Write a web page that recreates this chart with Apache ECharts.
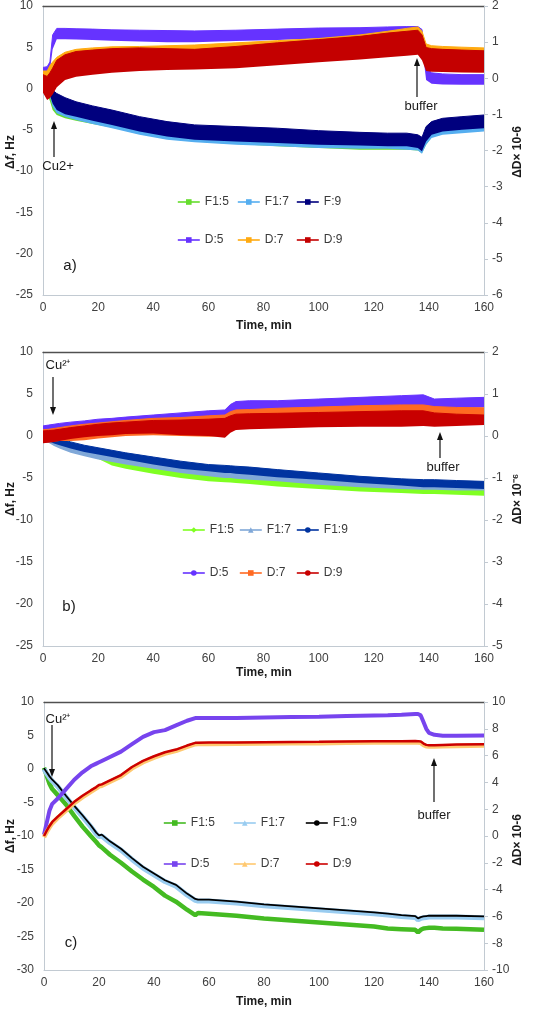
<!DOCTYPE html>
<html><head><meta charset="utf-8">
<script src="https://cdn.jsdelivr.net/npm/echarts@6/dist/echarts.min.js"></script>
<style>
html,body{margin:0;padding:0;background:#fff;width:534px;height:1009px;overflow:hidden}
.c{position:absolute;left:0;width:534px}
</style></head>
<body>
<div id="ca" class="c" style="top:0;height:335px"></div>
<div id="cb" class="c" style="top:335px;height:345px"></div>
<div id="cc" class="c" style="top:680px;height:329px"></div>
<script>
// ---------- tick settings ----------
const xTicks = {min: 0, max: 160, interval: 20};

// ---------- Panel a (noise envelopes: lower / upper) ----------
const tA = [0, 1.5, 2.5, 3.5, 5, 8, 12, 18, 25, 35, 45, 55, 70, 85, 100, 115, 125, 132, 136, 137.5, 139, 141, 145, 152, 160];
const aF5lo = [-0.3,-0.7,-1.5,-2.6,-3.2,-3.6,-3.9,-4.3,-4.7,-5.5,-6.1,-6.4,-6.7,-7.0,-7.2,-7.4,-7.4,-7.4,-7.5,-7.8,-6.8,-5.9,-5.5,-5.3,-5.1];
const aF5hi = [0.2,-0.1,-0.6,-1.2,-1.6,-2.0,-2.4,-2.9,-3.4,-4.2,-4.8,-5.2,-5.4,-5.6,-5.9,-6.1,-6.2,-6.2,-6.4,-6.6,-5.4,-4.8,-4.4,-4.2,-4.0];
const aF7lo = [-0.3,-0.6,-1.0,-2.2,-3.0,-3.4,-3.8,-4.3,-4.8,-5.6,-6.2,-6.5,-6.8,-7.0,-7.2,-7.3,-7.3,-7.4,-7.5,-7.9,-6.8,-6.0,-5.6,-5.4,-5.2];
const aF7hi = [0.2,0.0,-0.4,-0.8,-1.2,-1.7,-2.2,-2.7,-3.2,-4.0,-4.6,-5.0,-5.2,-5.4,-5.7,-5.9,-6.0,-6.0,-6.2,-6.5,-5.2,-4.6,-4.2,-4.0,-3.8];
const aF9lo = [-0.3,-0.5,-0.8,-1.8,-2.6,-3.1,-3.4,-3.9,-4.4,-5.2,-5.8,-6.2,-6.4,-6.6,-6.8,-6.9,-7.0,-7.0,-7.2,-7.6,-6.4,-5.6,-5.2,-5.0,-4.8];
const aF9hi = [0.3,0.2,0.0,-0.2,-0.6,-1.1,-1.6,-2.1,-2.6,-3.4,-4.0,-4.4,-4.6,-4.8,-5.1,-5.3,-5.4,-5.4,-5.6,-5.9,-4.6,-4.0,-3.6,-3.4,-3.2];
const aD5lo = [0.05,0.08,0.2,0.8,1.08,1.08,1.07,1.06,1.04,1.02,1.0,1.0,1.03,1.06,1.1,1.12,1.14,1.15,1.15,0.9,-0.05,-0.15,-0.17,-0.18,-0.18];
const aD5hi = [0.3,0.32,0.45,1.2,1.38,1.38,1.37,1.36,1.34,1.33,1.32,1.31,1.33,1.36,1.39,1.4,1.42,1.43,1.43,1.35,0.3,0.15,0.12,0.1,0.1];
const aD7lo = [-0.3,-0.3,-0.1,0.05,0.1,0.15,0.2,0.25,0.28,0.3,0.32,0.35,0.42,0.5,0.58,0.66,0.72,0.76,0.78,0.6,0.3,0.3,0.28,0.25,0.22];
const aD7hi = [0.2,0.2,0.35,0.45,0.58,0.72,0.8,0.84,0.87,0.88,0.9,0.92,0.98,1.04,1.1,1.2,1.3,1.38,1.42,1.3,0.95,0.9,0.88,0.86,0.84];
const aD9lo = [-0.4,-0.6,-0.55,-0.45,-0.25,-0.05,0.04,0.1,0.15,0.2,0.23,0.24,0.28,0.36,0.44,0.52,0.58,0.62,0.65,0.5,0.2,0.18,0.17,0.16,0.15];
const aD9hi = [0.1,0.05,0.15,0.28,0.5,0.65,0.74,0.78,0.82,0.84,0.82,0.8,0.88,0.98,1.07,1.16,1.25,1.3,1.33,1.2,0.85,0.82,0.8,0.78,0.76];

// ---------- Panel b ----------
const tB = [0, 2, 4, 6, 10, 15, 20, 25, 30, 40, 50, 60, 66, 68, 70, 75, 85, 100, 115, 130, 138, 142, 150, 160];
const bF5lo = [-0.5,-0.7,-1.1,-1.4,-1.9,-2.3,-2.7,-3.5,-3.9,-4.5,-5.0,-5.4,-5.5,-5.55,-5.6,-5.7,-6.0,-6.3,-6.6,-6.8,-6.9,-6.9,-7.0,-7.1];
const bF5hi = [0.2,0.0,-0.3,-0.5,-0.9,-1.3,-1.7,-2.5,-3.0,-3.5,-4.0,-4.5,-4.7,-4.75,-4.8,-4.9,-5.1,-5.5,-5.8,-6.0,-6.1,-6.1,-6.2,-6.3];
const bF7lo = [-0.6,-0.8,-1.2,-1.5,-2.0,-2.4,-2.8,-3.1,-3.4,-3.9,-4.4,-4.8,-5.0,-5.0,-5.1,-5.2,-5.4,-5.8,-6.1,-6.3,-6.4,-6.4,-6.5,-6.5];
const bF7hi = [0.2,0.0,-0.3,-0.5,-0.9,-1.3,-1.6,-1.9,-2.2,-2.7,-3.2,-3.6,-3.7,-3.75,-3.8,-3.9,-4.2,-4.6,-5.0,-5.3,-5.4,-5.4,-5.5,-5.6];
const bF9lo = [-0.5,-0.6,-0.9,-1.1,-1.5,-1.9,-2.2,-2.5,-2.8,-3.4,-3.9,-4.2,-4.4,-4.4,-4.5,-4.6,-4.9,-5.2,-5.6,-5.9,-6.1,-6.1,-6.2,-6.3];
const bF9hi = [0.3,0.1,-0.1,-0.3,-0.7,-1.1,-1.4,-1.7,-2.0,-2.5,-3.0,-3.4,-3.5,-3.55,-3.6,-3.7,-4.0,-4.4,-4.8,-5.1,-5.2,-5.2,-5.3,-5.4];
const bD5lo = [0.0,0.02,0.04,0.06,0.08,0.11,0.14,0.16,0.18,0.22,0.26,0.3,0.34,0.45,0.55,0.58,0.6,0.62,0.65,0.68,0.7,0.64,0.66,0.68];
const bD5hi = [0.24,0.26,0.28,0.3,0.33,0.36,0.4,0.42,0.45,0.5,0.55,0.6,0.62,0.75,0.82,0.84,0.84,0.88,0.92,0.96,0.98,0.88,0.9,0.92];
const bD7lo = [-0.15,-0.14,-0.13,-0.12,-0.12,-0.1,-0.06,-0.03,0.0,0.02,0.0,-0.02,0.0,0.1,0.16,0.18,0.2,0.22,0.24,0.24,0.25,0.25,0.26,0.27];
const bD7hi = [0.15,0.16,0.18,0.2,0.24,0.28,0.31,0.34,0.37,0.42,0.44,0.48,0.5,0.58,0.62,0.63,0.66,0.69,0.72,0.74,0.74,0.7,0.68,0.67];
const bD9lo = [-0.17,-0.16,-0.14,-0.12,-0.07,-0.03,0.0,0.02,0.05,0.06,0.02,0.0,-0.04,0.08,0.14,0.16,0.18,0.21,0.22,0.22,0.24,0.22,0.24,0.26];
const bD9hi = [0.12,0.13,0.14,0.16,0.2,0.24,0.28,0.31,0.33,0.37,0.38,0.4,0.42,0.48,0.52,0.53,0.54,0.56,0.58,0.6,0.6,0.55,0.52,0.5];

// ---------- Panel c (single traces) ----------
const tC = [0,1,2,3,5,8,11,14,17,19,20,21,24,28,32,36,40,44,48,52,55,56,60,70,80,90,100,110,120,125,130,135,136,137,138,139,140,142,145,150,160];
const cF5 = [0.2,-1.0,-2.2,-3.0,-3.9,-5.3,-7.0,-8.6,-10.0,-10.9,-11.4,-11.7,-12.8,-14.0,-15.3,-16.5,-17.6,-18.9,-19.8,-21.0,-21.8,-21.5,-21.6,-21.9,-22.3,-22.6,-22.9,-23.2,-23.5,-23.8,-23.9,-24.0,-24.4,-24.0,-23.8,-23.75,-23.7,-23.7,-23.8,-23.85,-24.0];
const cF7 = [0.0,-0.7,-1.3,-1.8,-2.6,-4.2,-5.7,-7.1,-8.6,-9.7,-10.1,-10.0,-11.0,-12.1,-13.5,-14.8,-15.8,-16.8,-17.5,-18.8,-19.6,-19.7,-19.7,-20.0,-20.4,-20.7,-21.0,-21.3,-21.6,-21.8,-22.0,-22.15,-22.5,-22.3,-22.2,-22.15,-22.1,-22.1,-22.1,-22.1,-22.2];
const cF9 = [0.1,-0.5,-1.1,-1.6,-2.4,-4.0,-5.5,-6.9,-8.4,-9.5,-9.9,-9.8,-10.8,-11.9,-13.3,-14.6,-15.6,-16.6,-17.3,-18.6,-19.4,-19.5,-19.5,-19.8,-20.2,-20.5,-20.8,-21.1,-21.4,-21.6,-21.8,-21.95,-22.3,-22.1,-22.0,-21.95,-21.9,-21.9,-21.9,-21.9,-22.0];
const cD5 = [0.1,1.0,1.9,2.4,2.8,3.5,4.2,4.75,5.2,5.4,5.5,5.6,5.9,6.3,6.85,7.4,7.75,7.9,8.25,8.6,8.8,8.8,8.8,8.8,8.85,8.88,8.9,8.95,9.0,9.02,9.05,9.1,9.1,9.0,8.5,8.0,7.7,7.55,7.48,7.48,7.5];
const cD7 = [-0.1,0.3,0.65,0.95,1.35,1.9,2.45,2.9,3.3,3.55,3.7,3.75,4.05,4.45,5.05,5.5,5.85,6.15,6.35,6.65,6.85,6.86,6.87,6.88,6.9,6.92,6.93,6.95,6.97,6.98,6.98,6.99,6.98,6.95,6.8,6.7,6.68,6.68,6.7,6.72,6.75];
const cD9 = [0.0,0.4,0.75,1.05,1.45,2.0,2.55,3.0,3.4,3.65,3.8,3.85,4.15,4.55,5.15,5.6,5.95,6.25,6.45,6.75,6.95,6.96,6.97,6.98,7.0,7.02,7.03,7.05,7.07,7.08,7.08,7.09,7.08,7.05,6.9,6.8,6.78,6.78,6.8,6.82,6.85];

const namesA = ['F1:5','F1:7','F:9','D:5','D:7','D:9'];
const namesBC = ['F1:5','F1:7','F1:9','D:5','D:7','D:9'];

// ---------- helpers ----------
const FONT = '"Liberation Sans", Arial, sans-serif';
const AXC = '#c2cad2';

// band: lower line (invisible) + stacked thickness filled with area.
// value is put in the first data column so that it is the stacked dimension.
function band(name, t, lo, hi, color, yi, z) {
  const base = t.map((x, i) => [lo[i], x]);
  const thick = t.map((x, i) => [+(hi[i] - lo[i]).toFixed(4), x]);
  const st = 'st_' + name;
  const common = {type: 'line', yAxisIndex: yi, stack: st, stackStrategy: 'all', symbol: 'none', silent: true, z: z,
                  dimensions: [{name: 'v', type: 'float'}, {name: 't', type: 'float'}], encode: {x: 't', y: 'v'}};
  return [
    Object.assign({name: name + '_lo', data: base, lineStyle: {opacity: 0, width: 0}}, common),
    Object.assign({name: name + '_band', data: thick, lineStyle: {color: color, width: 1},
                   areaStyle: {color: color, opacity: 1}}, common)
  ];
}
function legendSeries(name, color, symbol, size) {
  return {type: 'line', name: name, data: [], color: color, symbol: symbol, symbolSize: size,
          itemStyle: {color: color}, lineStyle: {color: color, width: 2}};
}
function legends(names, xs, ys) {
  return names.map((n, i) => ({
    data: [n], left: xs[i % 3], top: ys[Math.floor(i / 3)] - 7, padding: 0,
    itemWidth: 22, itemHeight: 7, itemGap: 0, lineStyle: {width: 1.6},
    selectedMode: false, textStyle: {fontSize: 12, color: '#3a3a3a', fontFamily: FONT}
  }));
}
function axes(lmin, lmax, lint, rmin, rmax, rint) {
  const lab = {fontSize: 12, color: '#404040', fontFamily: FONT};
  return {
    xAxis: [
      {type: 'value', min: xTicks.min, max: xTicks.max, interval: xTicks.interval, position: 'bottom',
       axisLine: {show: true, onZero: false, lineStyle: {color: AXC}}, axisTick: {show: false},
       splitLine: {show: false}, axisLabel: Object.assign({margin: 7}, lab)},
      {type: 'value', min: xTicks.min, max: xTicks.max, position: 'top',
       axisLine: {show: true, onZero: false, lineStyle: {color: '#505050', width: 1.3}},
       axisTick: {show: false}, axisLabel: {show: false}, splitLine: {show: false}}
    ],
    yAxis: [
      {type: 'value', min: lmin, max: lmax, interval: lint, position: 'left',
       axisLine: {show: true, onZero: false, lineStyle: {color: AXC}}, axisTick: {show: false},
       splitLine: {show: false}, axisLabel: Object.assign({margin: 10}, lab)},
      {type: 'value', min: rmin, max: rmax, interval: rint, position: 'right',
       axisLine: {show: true, onZero: false, lineStyle: {color: AXC}},
       axisTick: {show: true, length: 4, lineStyle: {color: AXC}},
       splitLine: {show: false}, axisLabel: Object.assign({margin: 8}, lab)}
    ]
  };
}
function txt(x, y, text, size, extra) {
  return {type: 'text', x: x, y: y, z: 100, silent: true, style: Object.assign({
    text: text, font: size + 'px ' + FONT, fill: '#1a1a1a',
    textAlign: 'center', textVerticalAlign: 'middle', align: 'center', verticalAlign: 'middle'}, extra || {})};
}
function vtxt(x, y, text, rich) {
  const el = txt(x, y, text, 12, {font: 'bold 12px ' + FONT, rich: rich || {}});
  el.rotation = Math.PI / 2;
  return el;
}
function arrow(x, yTail, yTip) {
  const d = yTip > yTail ? 1 : -1;
  return [
    {type: 'line', z: 100, silent: true, shape: {x1: x, y1: yTail, x2: x, y2: yTip - d * 5}, style: {stroke: '#111', lineWidth: 1.2}},
    {type: 'polygon', z: 100, silent: true, shape: {points: [[x, yTip], [x - 3, yTip - d * 8], [x + 3, yTip - d * 8]]}, style: {fill: '#111'}}
  ];
}
const boldRich = {b: {font: 'bold 12px ' + FONT}, i: {font: 'italic bold 12px ' + FONT}};

// ---------- Chart a ----------
(function () {
  const col = {F5: '#66dd2e', F7: '#55aef0', F9: '#00007e', D5: '#6633ff', D7: '#ffaa11', D9: '#c40000'};
  const series = [].concat(
    band('F1:5', tA, aF5lo, aF5hi, col.F5, 0, 2),
    band('F1:7', tA, aF7lo, aF7hi, col.F7, 0, 3),
    band('F:9', tA, aF9lo, aF9hi, col.F9, 0, 4),
    band('D:5', tA, aD5lo, aD5hi, col.D5, 1, 5),
    band('D:7', tA, aD7lo, aD7hi, col.D7, 1, 6),
    band('D:9', tA, aD9lo, aD9hi, col.D9, 1, 7),
    [legendSeries('F1:5', col.F5, 'rect', 4), legendSeries('F1:7', col.F7, 'rect', 4), legendSeries('F:9', col.F9, 'rect', 4),
     legendSeries('D:5', col.D5, 'rect', 4), legendSeries('D:7', col.D7, 'rect', 4), legendSeries('D:9', col.D9, 'rect', 4)]
  );
  const opt = Object.assign({
    animation: false,
    textStyle: {fontFamily: FONT},
    grid: {left: 43, top: 6, width: 441, height: 289},
    legend: legends(namesA, [177, 237, 296], [203, 241]),
    series: series,
    graphic: [].concat(
      [vtxt(11, 152, '{b|Δ}{i|f}{b|, Hz}', boldRich), vtxt(518, 152, 'ΔD× 10-6'),
       txt(264, 326, 'Time, min', 12, {font: 'bold 12px ' + FONT}),
       txt(58, 166, 'Cu2+', 13), txt(421, 106, 'buffer', 13), txt(70, 266, 'a)', 15)],
      arrow(54, 157, 121), arrow(417, 97, 58)
    )
  }, axes(-25, 10, 5, -6, 2, 1));
  echarts.init(document.getElementById('ca'), null, {renderer: 'canvas'}).setOption(opt);
})();

// ---------- Chart b ----------
(function () {
  const col = {F5: '#80ff22', F7: '#80a8d8', F9: '#0033a0', D5: '#6633ff', D7: '#ff6a22', D9: '#c80000'};
  const series = [].concat(
    band('F1:5', tB, bF5lo, bF5hi, col.F5, 0, 2),
    band('F1:7', tB, bF7lo, bF7hi, col.F7, 0, 3),
    band('F1:9', tB, bF9lo, bF9hi, col.F9, 0, 4),
    band('D:5', tB, bD5lo, bD5hi, col.D5, 1, 5),
    band('D:7', tB, bD7lo, bD7hi, col.D7, 1, 6),
    band('D:9', tB, bD9lo, bD9hi, col.D9, 1, 7),
    [legendSeries('F1:5', col.F5, 'diamond', 5), legendSeries('F1:7', col.F7, 'triangle', 6), legendSeries('F1:9', col.F9, 'none', 0),
     legendSeries('D:5', col.D5, 'circle', 4), legendSeries('D:7', col.D7, 'rect', 3), legendSeries('D:9', col.D9, 'none', 0)]
  );
  const opt = Object.assign({
    animation: false,
    textStyle: {fontFamily: FONT},
    grid: {left: 43, top: 17, width: 441, height: 294},
    legend: legends(namesBC, [182, 239, 296], [196, 239]),
    series: series,
    graphic: [].concat(
      [vtxt(11, 164, 'Δf, Hz'), vtxt(518, 164, 'ΔD× 10⁻⁶'),
       txt(264, 338, 'Time, min', 12, {font: 'bold 12px ' + FONT}),
       txt(58, 30, 'Cu²⁺', 13), txt(443, 132, 'buffer', 13), txt(69, 272, 'b)', 15)],
      arrow(53, 42, 80), arrow(440, 123, 97)
    )
  }, axes(-25, 10, 5, -5, 2, 1));
  echarts.init(document.getElementById('cb'), null, {renderer: 'canvas'}).setOption(opt);
})();

// ---------- Chart c ----------
(function () {
  const col = {F5: '#44bb22', F7: '#99ccf0', F9: '#000000', D5: '#7744ee', D7: '#ffc870', D9: '#cc0000'};
  function ln(name, vals, color, w, yi, sym, size, z) {
    return {type: 'line', name: name, data: tC.map((x, i) => [x, vals[i]]), yAxisIndex: yi, color: color, z: z,
            symbol: sym, symbolSize: size, showSymbol: false, itemStyle: {color: color},
            lineStyle: {color: color, width: w}, silent: true};
  }
  const series = [
    ln('F1:5', cF5, col.F5, 4.5, 0, 'rect', 5, 2),
    ln('F1:7', cF7, col.F7, 5, 0, 'triangle', 6, 3),
    ln('F1:9', cF9, col.F9, 1.8, 0, 'none', 0, 4),
    ln('D:5', cD5, col.D5, 4, 1, 'rect', 5, 5),
    ln('D:7', cD7, col.D7, 4.5, 1, 'triangle', 6, 6),
    ln('D:9', cD9, col.D9, 2.5, 1, 'none', 0, 7)
  ];
  const opt = Object.assign({
    animation: false,
    textStyle: {fontFamily: FONT},
    grid: {left: 44, top: 22, width: 440, height: 268},
    legend: legends(namesBC, [163, 233, 305], [144, 185]),
    series: series,
    graphic: [].concat(
      [vtxt(11, 156, 'Δf, Hz'), vtxt(518, 160, 'ΔD× 10-6'),
       txt(264, 322, 'Time, min', 12, {font: 'bold 12px ' + FONT}),
       txt(58, 39, 'Cu²⁺', 13), txt(434, 135, 'buffer', 13), txt(71, 263, 'c)', 15)],
      arrow(52, 45, 97), arrow(434, 122, 78)
    )
  }, axes(-30, 10, 5, -10, 10, 2));
  echarts.init(document.getElementById('cc'), null, {renderer: 'canvas'}).setOption(opt);
})();
</script>
</body></html>
